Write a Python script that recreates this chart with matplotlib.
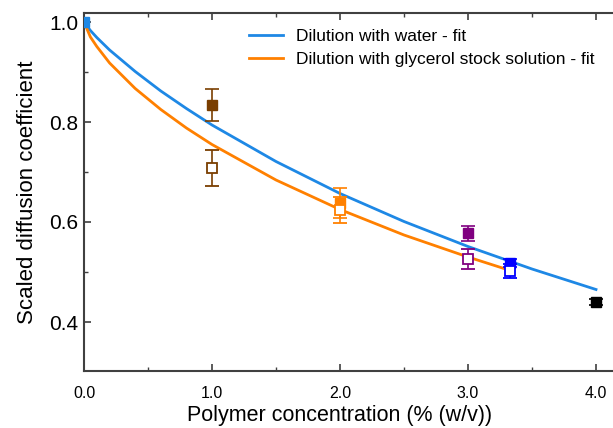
import matplotlib
matplotlib.use("Agg")
import matplotlib.pyplot as plt
from matplotlib.ticker import MultipleLocator

plt.rcParams['font.family'] = ['Liberation Sans', 'DejaVu Sans']

# Fit curves
water_x = [0, 0.05, 0.1, 0.2, 0.4, 0.6, 0.8, 1.0, 1.5, 2.0, 2.5, 3.0, 3.5, 4.0]
water_y = [1.0, 0.983, 0.969, 0.944, 0.901, 0.862, 0.827, 0.794, 0.721, 0.657, 0.601, 0.551, 0.506, 0.465]
glyc_x = [0, 0.05, 0.1, 0.2, 0.4, 0.6, 0.8, 1.0, 1.5, 2.0, 2.5, 3.0, 3.33]
glyc_y = [1.0, 0.970, 0.951, 0.918, 0.867, 0.825, 0.788, 0.755, 0.684, 0.625, 0.574, 0.530, 0.503]

# Data points
filled_x = [0.0, 1.0, 2.0, 3.0, 3.33, 4.0]
filled_y = [1.0, 0.834, 0.638, 0.578, 0.518, 0.440]
filled_err = [0.0, 0.032, 0.030, 0.015, 0.008, 0.006]
open_x = [1.0, 2.0, 3.0, 3.33]
open_y = [0.708, 0.624, 0.526, 0.502]
open_err = [0.036, 0.026, 0.020, 0.014]

filled_colors = ['#1E88E5', '#7A3E00', '#FF8000', '#800080', '#0000FF', '#000000']
open_colors = ['#7A3E00', '#FF8000', '#800080', '#0000FF']

fig = plt.figure(figsize=(6.13, 4.28), dpi=100)
ax = fig.add_axes([84/613, (428-371)/428, (622-84)/613, (371-13)/428])

ax.plot(water_x, water_y, color='#1E88E5', lw=2, label='Dilution with water - fit', zorder=2)
ax.plot(glyc_x, glyc_y, color='#FF8000', lw=2, label='Dilution with glycerol stock solution - fit', zorder=2)

for x, y, e, c in zip(filled_x, filled_y, filled_err, filled_colors):
    ax.errorbar(x, y, yerr=e if e > 0 else None, fmt='s', color=c, mfc=c, mec=c,
                ms=6.5, capsize=5, elinewidth=1.2, capthick=1.2, zorder=3)
for x, y, e, c in zip(open_x, open_y, open_err, open_colors):
    ax.errorbar(x, y, yerr=e, fmt='s', color=c, mfc='white', mec=c, mew=1.3,
                ms=7, capsize=5, elinewidth=1.2, capthick=1.2, zorder=3)

ax.set_xlim(0, (622-84)/128)
ax.set_ylim(0.302, 1.018)
ax.xaxis.set_major_locator(MultipleLocator(1.0))
ax.xaxis.set_minor_locator(MultipleLocator(0.5))
ax.yaxis.set_major_locator(MultipleLocator(0.2))
ax.yaxis.set_minor_locator(MultipleLocator(0.1))
ax.xaxis.set_major_formatter(plt.FormatStrFormatter('%.1f'))
ax.yaxis.set_major_formatter(plt.FormatStrFormatter('%.1f'))

for s in ax.spines.values():
    s.set_color('#404040')
    s.set_linewidth(1.5)
ax.tick_params(which='both', direction='in', top=True, right=False, color='#404040')
ax.tick_params(which='major', length=5, width=1.2)
ax.tick_params(which='minor', length=3, width=1.0)
ax.tick_params(axis='x', labelsize=11.5, pad=11)
ax.tick_params(axis='y', labelsize=15, pad=4)

ax.set_xlabel('Polymer concentration (% (w/v))', fontsize=15.5)
ax.xaxis.set_label_coords((340-84)/538, -0.123)
ax.xaxis.label.set_va('center')
ax.set_ylabel('Scaled diffusion coefficient', fontsize=16, labelpad=8)

leg = ax.legend(loc='upper left', bbox_to_anchor=((233-84)/538, 1.0), frameon=False,
                fontsize=12.5, handlelength=2.0, handletextpad=0.7, labelspacing=0.45)

fig.savefig('out.png', dpi=100)
